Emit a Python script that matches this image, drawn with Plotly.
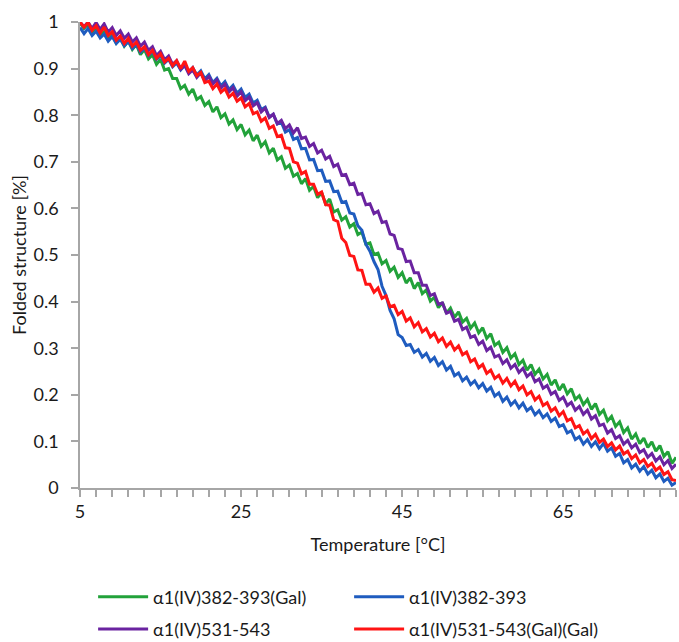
import plotly.graph_objects as go

# Temperature grid (°C), 0.5 °C steps from 5 to 79
temps = [5 + 0.5 * i for i in range(149)]

names = ["α1(IV)382-393(Gal)", "α1(IV)382-393", "α1(IV)531-543", "α1(IV)531-543(Gal)(Gal)"]

green = [0.998, 0.986, 0.995, 0.978, 0.988, 0.97, 0.979, 0.962, 0.972, 0.955,
         0.966, 0.948, 0.959, 0.941, 0.952, 0.93, 0.941, 0.921, 0.93, 0.909,
         0.92, 0.897, 0.9, 0.879, 0.879, 0.857, 0.864, 0.845, 0.856, 0.834,
         0.84, 0.821, 0.829, 0.807, 0.818, 0.795, 0.803, 0.781, 0.79, 0.769,
         0.78, 0.758, 0.768, 0.745, 0.757, 0.733, 0.743, 0.719, 0.729, 0.704,
         0.711, 0.686, 0.693, 0.669, 0.675, 0.653, 0.664, 0.639, 0.647, 0.623,
         0.634, 0.61, 0.62, 0.592, 0.597, 0.575, 0.582, 0.56, 0.567, 0.544,
         0.549, 0.523, 0.526, 0.501, 0.504, 0.481, 0.488, 0.465, 0.474, 0.452,
         0.462, 0.44, 0.451, 0.428, 0.441, 0.417, 0.425, 0.401, 0.409, 0.387,
         0.398, 0.375, 0.386, 0.366, 0.378, 0.356, 0.364, 0.343, 0.354, 0.333,
         0.344, 0.321, 0.331, 0.306, 0.313, 0.291, 0.301, 0.279, 0.288, 0.265,
         0.274, 0.253, 0.265, 0.244, 0.255, 0.234, 0.244, 0.221, 0.232, 0.21,
         0.223, 0.202, 0.213, 0.19, 0.198, 0.179, 0.19, 0.169, 0.181, 0.158,
         0.167, 0.144, 0.154, 0.132, 0.142, 0.119, 0.129, 0.105, 0.116, 0.095,
         0.107, 0.087, 0.099, 0.079, 0.091, 0.068, 0.078, 0.053, 0.066]

blue = [0.988, 0.975, 0.986, 0.971, 0.98, 0.966, 0.974, 0.959, 0.969, 0.954,
        0.963, 0.949, 0.958, 0.943, 0.952, 0.935, 0.944, 0.928, 0.937, 0.92,
        0.928, 0.912, 0.92, 0.904, 0.912, 0.897, 0.907, 0.892, 0.902, 0.886,
        0.895, 0.878, 0.887, 0.87, 0.879, 0.863, 0.872, 0.855, 0.864, 0.847,
        0.856, 0.838, 0.845, 0.826, 0.832, 0.812, 0.817, 0.796, 0.802, 0.781,
        0.785, 0.764, 0.769, 0.748, 0.752, 0.728, 0.729, 0.704, 0.705, 0.681,
        0.682, 0.658, 0.659, 0.636, 0.637, 0.613, 0.615, 0.59, 0.588, 0.563,
        0.553, 0.523, 0.508, 0.486, 0.469, 0.433, 0.413, 0.381, 0.363, 0.329,
        0.323, 0.306, 0.308, 0.291, 0.297, 0.281, 0.289, 0.272, 0.28, 0.263,
        0.271, 0.253, 0.261, 0.241, 0.247, 0.23, 0.238, 0.222, 0.23, 0.215,
        0.224, 0.208, 0.216, 0.197, 0.204, 0.186, 0.195, 0.178, 0.187, 0.172,
        0.182, 0.166, 0.173, 0.157, 0.166, 0.151, 0.159, 0.143, 0.15, 0.132,
        0.136, 0.118, 0.123, 0.104, 0.11, 0.094, 0.104, 0.089, 0.099, 0.084,
        0.096, 0.079, 0.086, 0.068, 0.074, 0.054, 0.061, 0.043, 0.051, 0.036,
        0.046, 0.03, 0.038, 0.022, 0.03, 0.014, 0.021, 0.006, 0.012]

purple = [1.0, 0.99, 1.0, 0.986, 0.999, 0.984, 0.996, 0.978, 0.988, 0.971,
          0.981, 0.965, 0.974, 0.957, 0.966, 0.948, 0.957, 0.939, 0.947, 0.928,
          0.937, 0.919, 0.927, 0.909, 0.917, 0.899, 0.907, 0.889, 0.897, 0.881,
          0.891, 0.874, 0.883, 0.867, 0.876, 0.858, 0.867, 0.85, 0.859, 0.841,
          0.85, 0.831, 0.839, 0.82, 0.827, 0.807, 0.815, 0.795, 0.802, 0.782,
          0.789, 0.771, 0.779, 0.762, 0.773, 0.75, 0.753, 0.733, 0.739, 0.719,
          0.725, 0.706, 0.712, 0.69, 0.695, 0.671, 0.673, 0.651, 0.654, 0.63,
          0.632, 0.608, 0.61, 0.589, 0.594, 0.57, 0.572, 0.545, 0.542, 0.514,
          0.512, 0.486, 0.487, 0.462, 0.462, 0.435, 0.435, 0.413, 0.417, 0.394,
          0.397, 0.375, 0.379, 0.358, 0.362, 0.34, 0.345, 0.323, 0.327, 0.308,
          0.315, 0.295, 0.302, 0.281, 0.285, 0.267, 0.275, 0.257, 0.265, 0.248,
          0.257, 0.239, 0.247, 0.228, 0.234, 0.214, 0.22, 0.201, 0.207, 0.188,
          0.195, 0.177, 0.184, 0.167, 0.175, 0.158, 0.167, 0.148, 0.155, 0.134,
          0.137, 0.118, 0.125, 0.106, 0.112, 0.094, 0.102, 0.086, 0.094, 0.076,
          0.082, 0.066, 0.074, 0.058, 0.067, 0.05, 0.059, 0.042, 0.051]

red = [1.0, 0.989, 0.999, 0.982, 0.992, 0.976, 0.989, 0.971, 0.979, 0.961,
       0.97, 0.954, 0.965, 0.948, 0.957, 0.939, 0.947, 0.93, 0.939, 0.922,
       0.932, 0.914, 0.922, 0.906, 0.917, 0.9, 0.916, 0.894, 0.902, 0.885,
       0.892, 0.87, 0.873, 0.857, 0.867, 0.849, 0.857, 0.839, 0.847, 0.83,
       0.837, 0.818, 0.825, 0.803, 0.807, 0.787, 0.794, 0.772, 0.777, 0.754,
       0.757, 0.73, 0.729, 0.7, 0.697, 0.674, 0.679, 0.652, 0.652, 0.63,
       0.635, 0.608, 0.607, 0.576, 0.572, 0.536, 0.527, 0.499, 0.497, 0.468,
       0.467, 0.437, 0.437, 0.42, 0.429, 0.407, 0.412, 0.389, 0.392, 0.372,
       0.379, 0.358, 0.365, 0.346, 0.355, 0.335, 0.342, 0.324, 0.332, 0.314,
       0.322, 0.304, 0.313, 0.296, 0.305, 0.286, 0.292, 0.271, 0.277, 0.258,
       0.265, 0.246, 0.253, 0.235, 0.242, 0.225, 0.235, 0.219, 0.229, 0.211,
       0.219, 0.2, 0.207, 0.189, 0.197, 0.177, 0.183, 0.165, 0.172, 0.155,
       0.164, 0.144, 0.149, 0.129, 0.134, 0.116, 0.123, 0.106, 0.115, 0.098,
       0.105, 0.089, 0.097, 0.082, 0.09, 0.073, 0.079, 0.063, 0.071, 0.054,
       0.061, 0.046, 0.053, 0.038, 0.045, 0.029, 0.035, 0.018, 0.016]

colors = ["#22a23a", "#1f5cbf", "#6a23a0", "#ff1414"]
series = [green, blue, purple, red]
legends = ["legend", "legend", "legend2", "legend2"]

fig = go.Figure()
for nm, ys, col, lg in zip(names, series, colors, legends):
    fig.add_trace(go.Scatter(x=temps[:len(ys)], y=ys, mode="lines", name=nm,
                             line=dict(color=col, width=3), legend=lg))

axis_col = "#a6a6a6"
txt_col = "#1a1a1a"
fam = "Lato"

leg_common = dict(orientation="h", xanchor="left", x=0.022, yanchor="middle",
                  entrywidth=191, entrywidthmode="pixels", itemwidth=50,
                  font=dict(family=fam, size=18, color=txt_col),
                  bgcolor="rgba(0,0,0,0)", traceorder="normal")

fig.update_layout(
    width=679, height=642,
    margin=dict(l=80, r=3, t=22, b=154, autoexpand=False),
    paper_bgcolor="white", plot_bgcolor="white",
    font=dict(family=fam, size=18, color=txt_col),
    xaxis=dict(range=[5, 79], tickvals=[5, 25, 45, 65], ticks="outside", ticklen=7,
               tickcolor=axis_col, tickwidth=1.5, showline=True, linecolor=axis_col,
               linewidth=1.5, showgrid=False, zeroline=False, automargin=False,
               tickfont=dict(family=fam, size=18, color=txt_col),
               minor=dict(ticks="outside", ticklen=7, tickcolor=axis_col, tickwidth=1.5,
                          dtick=2, tick0=5, showgrid=False),
               title=dict(text="Temperature [°C]", standoff=17,
                          font=dict(family=fam, size=18, color=txt_col))),
    yaxis=dict(range=[0, 1], dtick=0.1, tick0=0, ticks="outside", ticklen=7,
               tickcolor=axis_col, tickwidth=1.5, showline=True, linecolor=axis_col,
               linewidth=1.5, showgrid=False, zeroline=False, automargin=False,
               ticklabelstandoff=9,
               tickfont=dict(family=fam, size=18, color=txt_col),
               title=dict(text="Folded structure [%]", standoff=2,
                          font=dict(family=fam, size=18, color=txt_col))),
    legend=dict(leg_common, y=-0.234),
    legend2=dict(leg_common, y=-0.303),
)

fig.write_html("out.html")
